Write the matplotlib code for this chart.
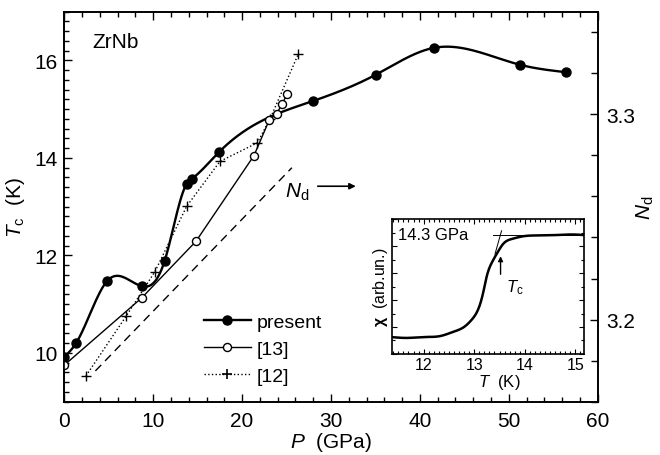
import numpy as np
import matplotlib
matplotlib.use("Agg")
import matplotlib.pyplot as plt
from matplotlib.ticker import MultipleLocator

plt.rcParams['font.family'] = ['Liberation Sans', 'DejaVu Sans']
plt.rcParams['mathtext.fontset'] = 'custom'
plt.rcParams['mathtext.rm'] = 'Liberation Sans'
plt.rcParams['mathtext.it'] = 'Liberation Sans:italic'
plt.rcParams['mathtext.bf'] = 'Liberation Sans:bold'

# ---- data: present work (filled circles)
p_present = [0.0, 1.32, 4.84, 8.71, 11.29, 13.77, 14.33, 17.4, 28.0, 35.06, 41.6, 51.3, 56.4]
tc_present = [9.92, 10.20, 11.48, 11.37, 11.89, 13.47, 13.57, 14.12, 15.17, 15.71, 16.26, 15.91, 15.76]

# ---- data: ref [13] (open circles)
p_ref13 = [0.0, 8.71, 14.81, 21.34, 23.06, 23.89, 24.52, 25.08]
tc_ref13 = [9.75, 11.13, 12.29, 14.05, 14.78, 14.91, 15.11, 15.32]

# ---- data: ref [12] (crosses)
p_ref12 = [2.44, 6.94, 10.2, 13.77, 17.51, 21.71, 23.14, 26.32]
tc_ref12 = [9.53, 10.75, 11.67, 13.01, 13.93, 14.31, 14.80, 16.13]

# ---- data: N_d (right axis, dashed)
p_nd = [3.5, 25.6]
nd_vals = [3.175, 3.274]

# ---- inset: chi(T) at 14.3 GPa
t_inset = [11.4, 11.67, 12.0, 12.33, 12.59, 12.79, 12.95, 13.08, 13.17, 13.25, 13.35,
           13.48, 13.57, 13.74, 14.0, 14.3, 14.6, 15.0, 15.17]
chi_inset = [0.124, 0.119, 0.126, 0.133, 0.165, 0.198, 0.254, 0.333, 0.444, 0.58, 0.679,
             0.765, 0.815, 0.852, 0.874, 0.878, 0.881, 0.885, 0.881]
t_tang_h = [13.38, 15.15]
chi_tang_h = [0.881, 0.881]
t_tang_s = [13.41, 13.54]
chi_tang_s = [0.741, 0.913]
tc_mark = 13.52


def natural_spline(x, y, xs):
    x = np.asarray(x, float); y = np.asarray(y, float)
    n = len(x); h = np.diff(x)
    A = np.zeros((n, n)); b = np.zeros(n)
    A[0, 0] = 1; A[-1, -1] = 1
    for i in range(1, n - 1):
        A[i, i - 1] = h[i - 1]
        A[i, i] = 2 * (h[i - 1] + h[i])
        A[i, i + 1] = h[i]
        b[i] = 3 * ((y[i + 1] - y[i]) / h[i] - (y[i] - y[i - 1]) / h[i - 1])
    c = np.linalg.solve(A, b)
    bb = (y[1:] - y[:-1]) / h - h * (2 * c[:-1] + c[1:]) / 3
    d = (c[1:] - c[:-1]) / (3 * h)
    idx = np.clip(np.searchsorted(x, xs) - 1, 0, n - 2)
    dx = xs - x[idx]
    return y[idx] + bb[idx] * dx + c[idx] * dx ** 2 + d[idx] * dx ** 3


fig = plt.figure(figsize=(6.6, 4.56), dpi=100)
ax = fig.add_axes([0.0974, 0.1169, 0.8082, 0.8552])
ax2 = ax.twinx()

xs = np.linspace(p_present[0], p_present[-1], 600)
ax.plot(xs, natural_spline(p_present, tc_present, xs), color='black', lw=1.7, zorder=4)
ax.plot(p_present, tc_present, 'o', color='black', ms=6.5, zorder=5)
ax.plot(p_ref13, tc_ref13, '-o', color='black', lw=1.0, ms=5.8, mfc='white', mec='black',
        mew=1.0, zorder=6)
ax.plot(p_ref12, tc_ref12, ':+', color='black', lw=1.0, ms=7, mew=1.0, zorder=3)

# legend proxies
lp, = ax.plot([], [], '-o', color='black', lw=1.7, ms=6.5)
l13, = ax.plot([], [], '-o', color='black', lw=1.0, ms=5.8, mfc='white', mew=1.0)
l12, = ax.plot([], [], ':+', color='black', lw=1.0, ms=7, mew=1.2)
ax.legend([lp, l13, l12], ['present', '[13]', '[12]'], loc='upper left',
          bbox_to_anchor=(0.262, 0.227), frameon=False, fontsize=14, handlelength=2.4,
          handletextpad=0.3, labelspacing=0.48, borderpad=0, borderaxespad=0)

ax2.plot(p_nd, nd_vals, '--', color='black', lw=1.0, dashes=(6, 4))

ax.set_xlim(0, 60)
ax.set_ylim(9, 17)
ax2.set_ylim(3.16, 3.35)
ax.xaxis.set_major_locator(MultipleLocator(10))
ax.xaxis.set_minor_locator(MultipleLocator(2))
ax.yaxis.set_major_locator(MultipleLocator(2))
ax.yaxis.set_minor_locator(MultipleLocator(0.2))
ax2.yaxis.set_major_locator(MultipleLocator(0.1))
ax2.yaxis.set_minor_locator(MultipleLocator(0.02))

ax.tick_params(which='both', direction='in', top=True, labelsize=15, width=1.0, pad=5)
ax.tick_params(which='major', length=6)
ax.tick_params(which='minor', length=3.5)
ax.tick_params(axis='x', pad=7)
ax2.tick_params(which='both', direction='in', labelsize=15, width=1.0, pad=6)
ax2.tick_params(which='major', length=6)
ax2.tick_params(which='minor', length=5)
for a in (ax, ax2):
    for s in a.spines.values():
        s.set_linewidth(1.2)

ax.set_xlabel(r'$P$  (GPa)', fontsize=15, labelpad=0)
ax.set_ylabel(r'$T_\mathrm{c}$  (K)', fontsize=15, labelpad=5)
ax2.set_ylabel(r'$N_\mathrm{d}$', fontsize=15, labelpad=0)

ax.text(3.2, 16.38, 'ZrNb', fontsize=15, va='center', ha='left')
ax.text(24.8, 13.32, r'$N_\mathrm{d}$', fontsize=15, va='center', ha='left')
ax.annotate('', xy=(33.1, 13.42), xytext=(28.2, 13.42),
            arrowprops=dict(arrowstyle='-|>', color='black', lw=1.2, mutation_scale=9))

# ---- inset
axi = fig.add_axes([0.5944, 0.2215, 0.2905, 0.296])
ts = np.linspace(t_inset[0], t_inset[-1], 400)
axi.plot(ts, natural_spline(t_inset, chi_inset, ts), color='black', lw=1.8)
axi.plot(t_tang_h, chi_tang_h, color='black', lw=0.7)
axi.plot(t_tang_s, chi_tang_s, color='black', lw=0.7)
axi.annotate('', xy=(tc_mark, 0.745), xytext=(tc_mark, 0.57),
             arrowprops=dict(arrowstyle='-|>', color='black', lw=1.0, mutation_scale=7))
axi.text(13.63, 0.50, r'$T_\mathrm{c}$', fontsize=12, va='center', ha='left')
axi.text(11.5, 0.885, '14.3 GPa', fontsize=12, va='center', ha='left')
axi.set_xlim(11.38, 15.17)
axi.set_ylim(0, 1)
axi.xaxis.set_major_locator(MultipleLocator(1))
axi.xaxis.set_minor_locator(MultipleLocator(0.1))
axi.yaxis.set_major_locator(MultipleLocator(0.2))
axi.yaxis.set_minor_locator(MultipleLocator(0.1))
axi.tick_params(which='both', direction='in', top=True, right=True, labelsize=11.5,
                width=0.8, labelleft=False, left=True)
axi.tick_params(which='major', length=3.5)
axi.tick_params(which='minor', length=2)
axi.tick_params(axis='x', pad=2)
for s in axi.spines.values():
    s.set_linewidth(1.2)
axi.set_xlabel(r'$T$  (K)', fontsize=12, labelpad=-3)
axi.xaxis.set_label_coords(0.56, -0.13)
axi.set_ylabel(r'$\mathbf{\chi}$  (arb.un.)', fontsize=11.5, labelpad=2)

fig.savefig('out.png', dpi=100)
